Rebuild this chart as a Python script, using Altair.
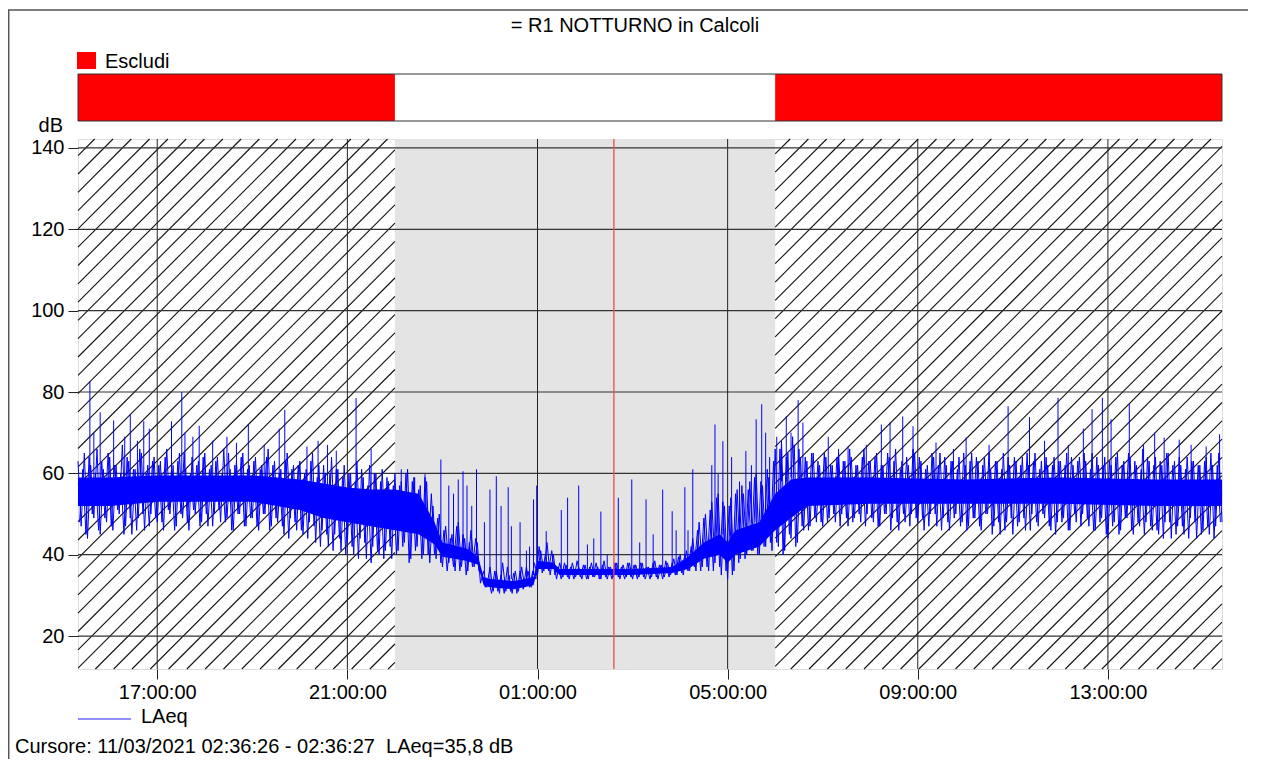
import math
import altair as alt
import pandas as pd

# ---------------- texts ----------------
TITLE = "= R1 NOTTURNO in Calcoli"
LEGEND_EXCL = "Escludi"
LEGEND_LINE = "LAeq"
Y_LABEL = "dB"
CURSOR_TEXT = "Cursore: 11/03/2021 02:36:26 - 02:36:27\u00a0 LAeq=35,8 dB"

# ---------------- axes ----------------
x_domain = ["15:20", "15:24"]          # 10/03 15:20 -> 11/03 15:24
y_domain = [11.9, 142.2]
x_ticks = ["17:00", "21:00", "01:00", "05:00", "09:00", "13:00"]
y_ticks = [20, 40, 60, 80, 100, 120, 140]

# ---------------- periods ----------------
excluded_periods = [("15:20", "22:00"), ("06:00", "15:24")]
included_period = ("22:00", "06:00")
cursor_time = "02:36:26"

# ---------------- LAeq readings, every 4 minutes from 15:20 (series A) ----------------
START_A = "15:20"
START_B = "15:22"
STEP_MIN = 4
laeq_evening = [  # 15:20 - 21:56
    63, 47, 65, 44, 62, 49, 66, 45, 61, 48,
    64, 46, 62, 50, 67, 47, 63, 45, 61, 49, 65, 46, 62, 50, 64,
    48, 63, 46, 66, 50, 62, 47, 65, 49, 61, 46, 64, 50, 63, 48,
    65, 47, 62, 50, 64, 48, 66, 49, 61, 46, 63, 50, 65, 47, 62,
    49, 64, 46, 62, 50, 66, 47, 63, 48, 61, 45, 65, 49, 62, 46,
    63, 45, 61, 48, 65, 43, 62, 46, 60, 42, 64, 45, 61, 41, 62,
    43, 60, 40, 63, 44, 59, 39, 62, 42, 60, 40, 61, 41, 58, 39,
]
laeq_night = [  # 22:00 - 05:56
    60, 41, 58, 43, 61, 39, 59, 42, 57, 40, 58, 38, 52, 39, 50,
    37, 47, 38, 45, 36, 48, 37, 44, 36, 46, 37, 43, 33, 36, 32,
    37, 31, 36, 30.5, 38, 31, 35, 30.5, 36, 31, 37, 32, 36, 32, 38,
    35, 41, 36, 43, 35, 40, 34, 38, 34.5, 37.5, 34, 38, 34.5, 37, 34,
    37.5, 34, 38, 34.5, 37, 34, 38.5, 34, 37, 34.5, 38, 34, 37.5, 34.5, 38,
    34, 37.5, 34.5, 38, 34, 37, 34.5, 38.5, 34, 37.5, 34.5, 38, 35, 39, 35,
    40, 35, 41, 36, 44, 36, 48, 37, 50, 36, 53, 38, 55, 35, 52,
    34, 54, 36, 56, 39, 55, 40, 58, 41, 60, 40, 57, 42, 59, 41,
]
laeq_morning = [  # 06:00 - 10:56
    66, 42, 68, 41, 65, 44, 67, 43, 64, 46, 63, 47, 65, 48, 62,
    47, 64, 49, 62, 48, 65, 50, 63, 47, 64, 49, 62, 48, 66, 50,
    63, 48, 65, 47, 62, 50, 64, 49, 66, 46, 63, 48, 62, 50, 65,
    48, 63, 46, 62, 50, 64, 47, 65, 49, 62, 46, 63, 50, 64, 48,
    62, 47, 65, 49, 63, 46, 64, 50, 61, 47, 63, 45, 65, 48, 62,
]
laeq_day = [  # 11:00 - 15:24
    45, 63, 48, 64, 46, 62, 50, 65, 47, 63, 49, 62, 46, 64, 48,
    63, 49, 65, 46, 62, 48, 64, 50, 63, 47, 65, 46, 62, 49, 64,
    44, 62, 48, 65, 46, 63, 49, 64, 45, 62, 47, 66, 48, 63, 46,
    64, 45, 62, 48, 65, 44, 63, 47, 62, 45, 64, 49, 63, 44, 62,
    46, 64, 45, 62, 47, 65, 48,
]

# ---------------- LAeq readings, every 4 minutes from 15:22 (series B) ----------------
laeq_b_evening = [  # 15:22 - 21:58
    48, 61, 45, 64, 50, 60, 46, 63, 49, 65,
    47, 62, 51, 60, 45, 64, 49, 61, 46, 66, 50, 60, 47, 63, 49,
    62, 48, 64, 51, 61, 46, 63, 50, 65, 48, 60, 51, 62, 47, 64,
    50, 61, 47, 63, 51, 60, 48, 65, 46, 62, 50, 64, 47, 61, 49,
    63, 47, 61, 50, 64, 46, 62, 49, 60, 47, 63, 44, 61, 48, 62,
    46, 60, 44, 63, 47, 59, 42, 62, 45, 60, 41, 61, 44, 59, 40,
    60, 42, 58, 39, 61, 43, 57, 38, 60, 41, 58, 39, 59, 42, 57,
]
laeq_b_night = [  # 22:02 - 05:58
    40, 57, 42, 60, 38, 58, 41, 56, 39, 59, 40, 55, 40, 49, 38,
    46, 36, 44, 37, 47, 36, 45, 35, 43, 37, 44, 36, 35, 32, 34,
    30.5, 36, 31, 35, 30.5, 37, 31, 35.5, 30.5, 36, 31.5, 37, 32, 36, 34,
    42, 35.5, 40, 36, 41, 35, 37, 34, 38, 34.5, 37, 34, 38.5, 34.5, 37.5,
    34, 37, 34.5, 38, 34, 37.5, 34.5, 37, 34, 38, 34.5, 37, 34, 38, 34.5,
    37.5, 34, 38, 34.5, 37, 34, 38, 34.5, 37.5, 34, 38.5, 34.5, 38, 35, 39.5,
    35.5, 40, 36, 42, 37, 46, 36, 49, 37, 51, 36, 54, 37, 53, 36,
    52, 35, 55, 38, 57, 39, 56, 41, 59, 40, 58, 42, 61, 43, 63,
]
laeq_b_morning = [  # 06:02 - 10:58
    43, 66, 40, 64, 45, 69, 42, 66, 47, 64, 46, 65, 49, 63, 48,
    65, 48, 62, 50, 64, 47, 63, 49, 66, 48, 62, 50, 64, 47, 63,
    49, 64, 47, 62, 50, 65, 46, 63, 48, 61, 50, 64, 47, 66, 49,
    64, 49, 61, 47, 65, 50, 62, 46, 64, 48, 63, 49, 61, 47, 65,
    46, 63, 49, 64, 47, 62, 50, 65, 45, 63, 48, 61, 46, 64, 49,
]
laeq_b_day = [  # 11:02 - 15:22
    64, 47, 62, 49, 65, 46, 63, 48, 61, 50, 64, 47, 62, 45, 63,
    48, 62, 46, 64, 50, 63, 47, 65, 49, 61, 46, 64, 48, 62, 45,
    63, 47, 64, 45, 62, 49, 65, 46, 63, 48, 61, 45, 64, 47, 62,
    46, 63, 44, 65, 48, 62, 45, 64, 47, 61, 44, 63, 48, 62, 45,
    63, 47, 65, 44, 62, 48,
]

# ---------------- dense core of the LAeq trace ----------------
core_time = ["15:20", "16:00", "17:00", "18:00", "19:00", "20:00", "20:30", "21:00",
             "21:30", "22:00", "22:30", "22:50", "23:00", "23:30", "23:45", "23:52",
             "00:00", "00:30", "00:55", "01:00", "01:20", "01:28", "02:00", "03:00",
             "03:50", "04:10", "04:30", "04:50", "05:00", "05:10", "05:40", "06:00",
             "06:20", "06:40", "08:00", "10:00", "12:00", "14:00", "15:24"]
core_lo = [52, 52, 53, 53, 53, 51, 49, 48, 47, 46, 45, 42.5, 39.5, 38.5, 37.5, 32.5,
           32, 31.5, 32.5, 36.5, 36.5, 35, 35, 35, 35.5, 36.5, 39, 40, 38, 40, 42, 46,
           49, 52, 52.5, 52.5, 52.5, 52, 52]
core_hi = [59, 59, 59.5, 59.5, 59.5, 58.5, 57.5, 56.5, 56, 56, 55, 48, 43, 41.5, 39.5, 34.5,
           34, 33.5, 34.5, 38.5, 38, 36.5, 36.5, 36.5, 37, 39.5, 43, 45, 43, 46, 48, 55,
           58.5, 59, 59, 58.5, 59, 58.5, 58.5]

# ---------------- isolated peaks (time, foot, top) ----------------
spikes_evening = [
    ("15:35", 58, 82.6), ("15:40", 58, 70), ("15:48", 58, 75), ("16:05", 58, 73),
    ("16:19", 58, 69), ("16:26", 58, 74.5), ("16:35", 58, 68), ("16:43", 58, 72.8),
    ("16:50", 58, 71), ("17:18", 58, 72.8), ("17:31", 58, 80), ("17:35", 58, 70),
    ("17:45", 58, 69), ("17:53", 58, 71.7), ("18:10", 58, 68), ("18:28", 58, 69),
    ("18:40", 58, 67.5), ("18:55", 58, 72), ("19:15", 58, 67), ("19:34", 58, 71),
    ("19:41", 58, 75.6), ("20:09", 57, 66.6), ("20:23", 57, 68), ("20:35", 57, 67),
    ("20:46", 57, 65.6), ("21:11", 56, 78.5), ("21:30", 55, 66),
]
spikes_night = [
    ("22:08", 55, 61), ("22:25", 54, 59), ("22:38", 52, 59.8), ("22:58", 44, 63.4),
    ("23:08", 42, 57), ("23:14", 42, 55), ("23:20", 42, 58.5), ("23:26", 41, 60.5),
    ("23:31", 41, 57), ("23:37", 40, 52), ("23:43", 40, 61), ("23:53", 35, 48),
    ("00:00", 34, 56), ("00:08", 34, 59.3), ("00:14", 34, 52), ("00:23", 34, 56.6),
    ("00:27", 34, 47), ("00:38", 34, 48), ("00:46", 34, 41), ("00:50", 34, 42),
    ("00:55", 35, 53.6), ("00:59", 35, 57), ("01:11", 38, 45.8), ("01:30", 36, 51),
    ("01:38", 36, 54), ("01:52", 36, 57), ("02:03", 36, 42.5), ("02:11", 36, 44),
    ("02:20", 36, 50.6), ("02:28", 36, 40), ("02:42", 36, 54), ("02:59", 36, 58.5),
    ("03:09", 36, 43), ("03:17", 36, 53.6), ("03:26", 36, 45), ("03:38", 36, 56),
    ("03:50", 36, 50.7), ("03:55", 36, 46), ("04:06", 38, 56.6), ("04:10", 38, 46),
    ("04:16", 39, 61), ("04:40", 44, 62), ("04:44", 44, 72), ("04:48", 44, 60),
    ("04:54", 45, 67.9), ("05:05", 44, 64), ("05:15", 46, 58), ("05:23", 47, 65.5),
    ("05:30", 48, 62), ("05:36", 48, 73.3), ("05:43", 49, 77), ("05:48", 50, 70),
    ("05:53", 52, 64),
]
spikes_day = [
    ("06:02", 56, 69), ("06:08", 58, 66), ("06:14", 58, 74), ("06:20", 59, 70),
    ("06:29", 59, 78), ("06:35", 59, 72.5), ("07:07", 58, 69), ("07:20", 58, 66),
    ("07:32", 58, 66.6), ("07:55", 58, 67), ("08:14", 58, 72), ("08:25", 58, 72.5),
    ("08:41", 58, 74), ("08:54", 58, 71.6), ("09:23", 58, 67.6), ("09:45", 58, 66),
    ("10:01", 58, 68.8), ("10:30", 58, 67), ("10:54", 58, 76.5), ("11:21", 58, 73.8),
    ("11:40", 58, 68), ("11:57", 58, 78.6), ("12:10", 58, 67), ("12:29", 58, 71),
    ("12:40", 58, 75.8), ("12:53", 58, 78.6), ("13:04", 58, 73.3), ("13:27", 58, 77),
    ("13:45", 58, 67), ("13:59", 58, 70), ("14:11", 58, 68.8), ("14:30", 58, 68.3),
    ("14:45", 58, 67), ("15:04", 58, 66.6), ("15:21", 58, 69.6),
]

# ---------------- styles ----------------
FONT = "Liberation Sans"
FS = 20
BLUE = "#0000ff"
RED = "#ff0000"
W, H = 1144, 530
HATCH_STEP = 18.3
HATCH_PHASE = -0.9


def clock(s):
    parts = [int(p) for p in s.split(":")]
    while len(parts) < 3:
        parts.append(0)
    return parts[0] + parts[1] / 60 + parts[2] / 3600


def chrono(times):
    """Clock strings in chronological order -> hours since midnight of day 1."""
    out, off, prev = [], 0.0, None
    for s in times:
        h = clock(s)
        if prev is not None and h < prev:
            off += 24
        prev = h
        out.append(h + off)
    return out


X0 = clock(x_domain[0])
X1 = clock(x_domain[1]) + 24
Y0, Y1 = y_domain


def day_h(s):
    h = clock(s)
    return h + 24 if h < X0 - 1e-9 else h


def series(start, values, name):
    t0 = clock(start)
    return pd.DataFrame({"t": [t0 + i * STEP_MIN / 60 for i in range(len(values))],
                         "v": values, "s": name})


line_df = pd.concat([
    series(START_A, laeq_evening + laeq_night + laeq_morning + laeq_day, "A"),
    series(START_B, laeq_b_evening + laeq_b_night + laeq_b_morning + laeq_b_day, "B"),
])
core_df = pd.DataFrame({"t": chrono(core_time), "lo": core_lo, "hi": core_hi})
spk = spikes_evening + spikes_night + spikes_day
spike_df = pd.DataFrame({"t": chrono([s[0] for s in spk]),
                         "b": [s[1] for s in spk], "p": [s[2] for s in spk]})

excl_h = [(day_h(excluded_periods[0][0]), day_h(excluded_periods[0][1])),
          (day_h(excluded_periods[1][0]), X1)]
band_df = pd.DataFrame({"a": [e[0] for e in excl_h], "b": [e[1] for e in excl_h]})
incl_df = pd.DataFrame({"a": [day_h(included_period[0])], "b": [day_h(included_period[1])]})
cursor_df = pd.DataFrame({"t": [day_h(cursor_time)]})
xt_df = pd.DataFrame({"g": [day_h(s) for s in x_ticks]})
yt_df = pd.DataFrame({"g": y_ticks})


def px_of(h):
    return (h - X0) / (X1 - X0) * W


def h_of(p):
    return X0 + p / W * (X1 - X0)


def db_of(t):
    return Y0 + t / H * (Y1 - Y0)


# hatch: 45-degree lines in screen space, clipped to the excluded periods
hatch = []
for ha, hb in excl_h:
    a, b = px_of(ha), px_of(hb)
    k = math.floor((a - H - HATCH_PHASE) / HATCH_STEP)
    while True:
        u = HATCH_PHASE + k * HATCH_STEP
        if u > b:
            break
        lo, hi = max(0.0, a - u), min(float(H), b - u)
        if hi - lo > 0.3:
            hatch.append({"hx": h_of(u + lo), "hy": db_of(lo),
                          "hx2": h_of(u + hi), "hy2": db_of(hi)})
        k += 1
hatch_df = pd.DataFrame(hatch)

xs = alt.Scale(domain=[X0, X1], nice=False, zero=False)
ys = alt.Scale(domain=[Y0, Y1], nice=False, zero=False)

label_expr = "(datum.value % 24 < 10 ? '0' : '') + (datum.value % 24) + ':00:00'"
AXX = alt.Axis(values=[day_h(s) for s in x_ticks], labelExpr=label_expr, title=None,
               tickSize=10, labelPadding=3, domain=False, grid=False,
               labelFontSize=FS, labelFont=FONT, labelColor="#000",
               tickColor="#222", labelFlush=False)
AXY = alt.Axis(values=y_ticks, tickSize=10, labelPadding=4, domain=False, title=None,
               grid=False, labelFontSize=FS, labelFont=FONT, labelColor="#000",
               tickColor="#222")


def X(f):
    return alt.X(f, scale=xs, axis=AXX, title=None)


def Y(f):
    return alt.Y(f, scale=ys, axis=AXY, title=None)


gray = alt.Chart(incl_df).mark_rect(color="#e4e4e4").encode(
    x=X("a:Q"), x2="b:Q", y=alt.value(0), y2=alt.value(H))

hatch_l = alt.Chart(hatch_df).mark_rule(color="#111111", strokeWidth=1.1).encode(
    x=X("hx:Q"), x2="hx2:Q", y=Y("hy:Q"), y2="hy2:Q")

gx = alt.Chart(xt_df).mark_rule(color="#222222", strokeWidth=1).encode(x=X("g:Q"))
gy = alt.Chart(yt_df).mark_rule(color="#333333", strokeWidth=1.2).encode(y=Y("g:Q"))

area = alt.Chart(core_df).mark_area(color=BLUE, opacity=1).encode(
    x=X("t:Q"), y=Y("lo:Q"), y2="hi:Q")
line = alt.Chart(line_df).mark_line(color=BLUE, strokeWidth=1).encode(
    x=X("t:Q"), y=Y("v:Q"), detail="s:N", order="t:Q")
spikes = alt.Chart(spike_df).mark_rule(color=BLUE, strokeWidth=1).encode(
    x=X("t:Q"), y=Y("b:Q"), y2="p:Q")
cursor = alt.Chart(cursor_df).mark_rule(color="#f04848", strokeWidth=1.3).encode(
    x=X("t:Q"))

band = alt.Chart(band_df).mark_rect(color=RED).encode(
    x=X("a:Q"), x2="b:Q", y=alt.value(-65), y2=alt.value(-18))
band_box = alt.Chart(pd.DataFrame({"a": [X0], "b": [X1]})).mark_rect(
    fill=None, stroke="#333333", strokeWidth=1).encode(
    x=X("a:Q"), x2="b:Q", y=alt.value(-65), y2=alt.value(-18))

one = pd.DataFrame({"k": [0]})
sq = alt.Chart(one).mark_rect(color=RED).encode(
    x=alt.value(-1), x2=alt.value(18), y=alt.value(-87), y2=alt.value(-70))
leg_line = alt.Chart(one).mark_rule(color="#6a6aff", strokeWidth=1.5).encode(
    x=alt.value(0), x2=alt.value(53), y=alt.value(580))
frame_top = alt.Chart(one).mark_rule(color="#555555", strokeWidth=1.5).encode(
    x=alt.value(-70), x2=alt.value(W + 26), y=alt.value(-129))
frame_left = alt.Chart(one).mark_rule(color="#555555", strokeWidth=1.5).encode(
    x=alt.value(-69.3), y=alt.value(-129), y2=alt.value(H + 92))


def txt(s, x, y, align="left"):
    return alt.Chart(pd.DataFrame({"s": [s]})).mark_text(
        font=FONT, fontSize=FS, color="#000000", align=align, baseline="alphabetic").encode(
        x=alt.value(x), y=alt.value(y), text="s:N")


chart = alt.layer(
    gray, hatch_l, gx, gy, area, line, spikes, cursor, band, band_box, sq, leg_line,
    frame_top, frame_left,
    txt(TITLE, 557, -107, "center"),
    txt(LEGEND_EXCL, 27, -71),
    txt(Y_LABEL, -15, -7, "right"),
    txt(LEGEND_LINE, 63, 584),
    txt(CURSOR_TEXT, -63, 614),
).properties(
    width=W, height=H,
    autosize=alt.AutoSizeParams(type="none"),
    padding={"left": 70, "top": 131, "right": 26, "bottom": 90},
).configure_view(stroke="#333333", strokeWidth=1).configure(font=FONT)

chart.save("out.html", embed_options={"renderer": "svg", "actions": False})
